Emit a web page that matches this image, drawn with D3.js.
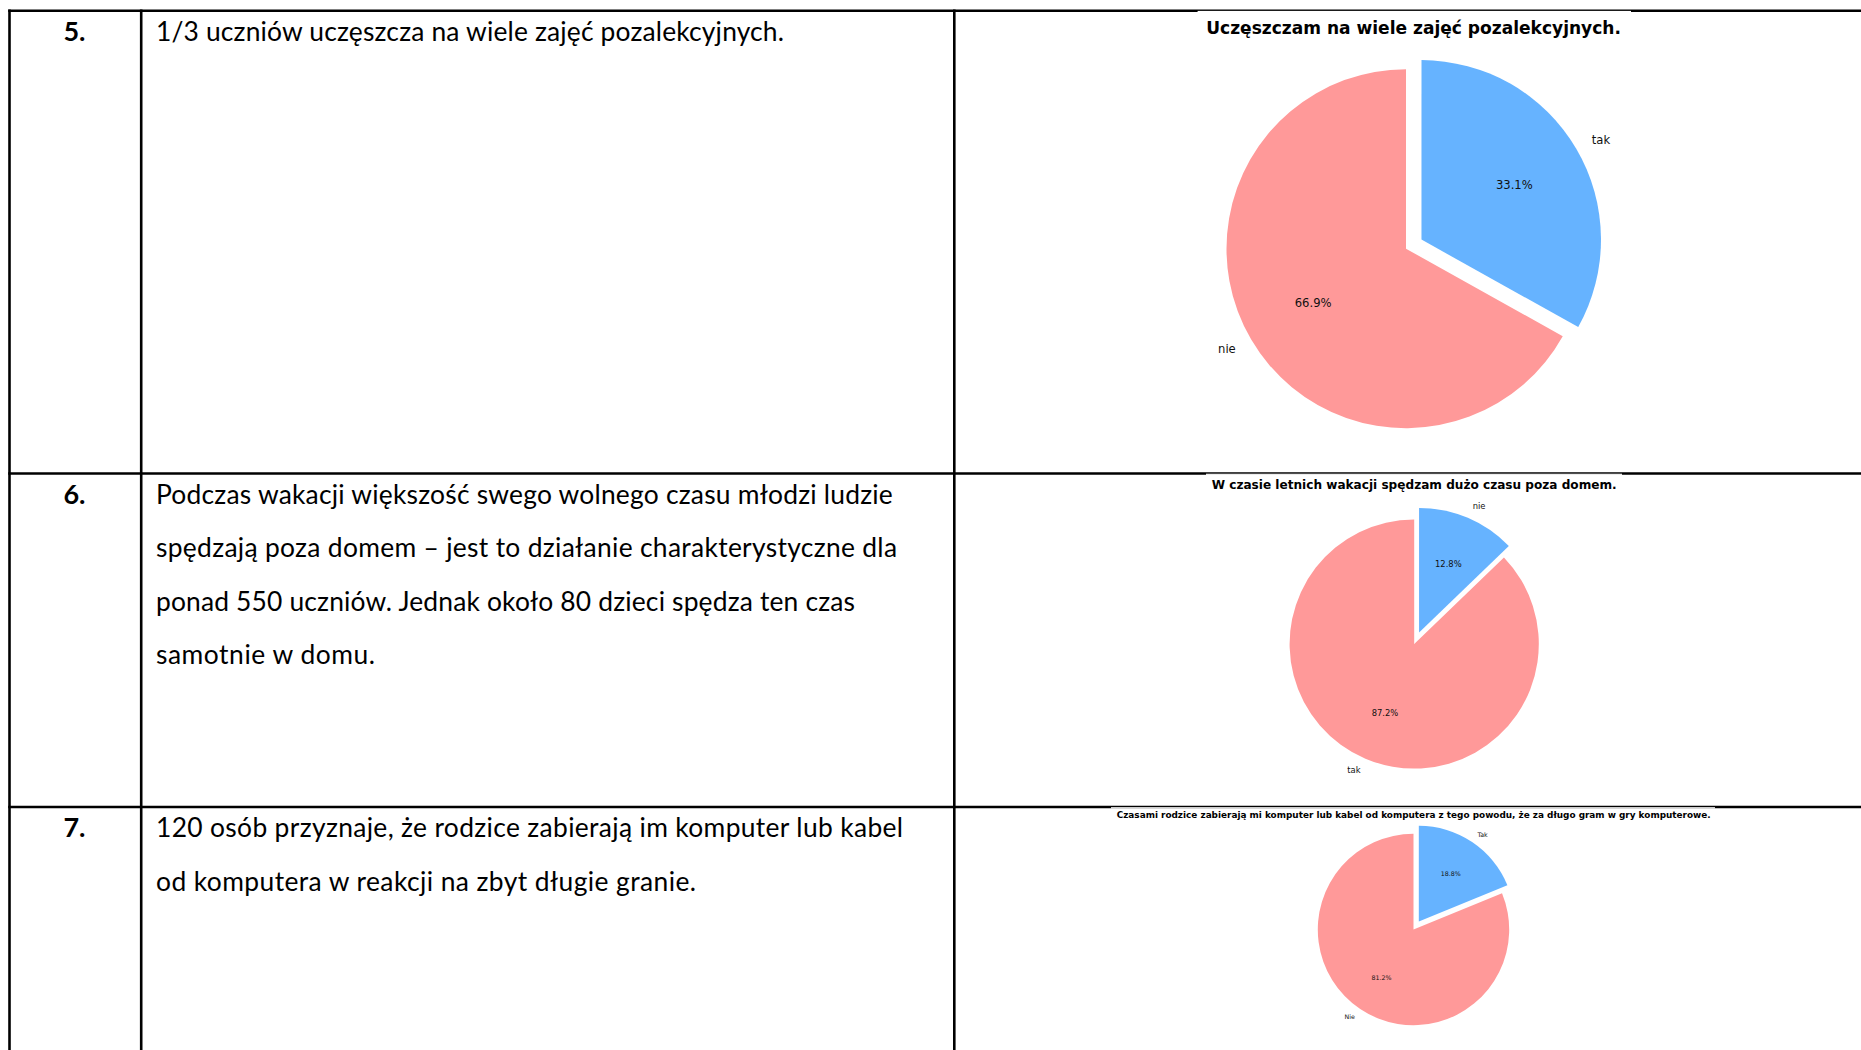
<!DOCTYPE html>
<html>
<head>
<meta charset="utf-8">
<script src="https://cdn.jsdelivr.net/npm/d3@7"></script>
<style>
  html, body { margin: 0; padding: 0; background: #fff; }
  svg { display: block; }
</style>
</head>
<body>
<script>
// ---------- data ----------
const rowNumbers = ["5.", "6.", "7."];
const rowLines0 = ["1/3 uczniów uczęszcza na wiele zajęć pozalekcyjnych."];
const rowLines1 = [
  "Podczas wakacji większość swego wolnego czasu młodzi ludzie",
  "spędzają poza domem – jest to działanie charakterystyczne dla",
  "ponad 550 uczniów. Jednak około 80 dzieci spędza ten czas",
  "samotnie w domu."
];
const rowLines2 = [
  "120 osób przyznaje, że rodzice zabierają im komputer lub kabel",
  "od komputera w reakcji na zbyt długie granie."
];
const chartTitles = [
  "Uczęszczam na wiele zajęć pozalekcyjnych.",
  "W czasie letnich wakacji spędzam dużo czasu poza domem.",
  "Czasami rodzice zabierają mi komputer lub kabel od komputera z tego powodu, że za długo gram w gry komputerowe."
];
const pieLabels1 = ["tak", "nie"];
const pieValues1 = [33.1, 66.9];
const pieLabels2 = ["nie", "tak"];
const pieValues2 = [12.8, 87.2];
const pieLabels3 = ["Tak", "Nie"];
const pieValues3 = [18.8, 81.2];
const sliceColors = ["#66b3ff", "#ff9999"];

// ---------- layout ----------
const W = 1861, H = 1050;
const rowTops = [10.7, 473.5, 807];
const colX = [9.5, 141.2, 954.3];
const lineW = 2.6;
const textX = 156;
const baseOffset = 30.2;
const lineStep = 53.4;
const textFont = "Lato, 'Open Sans', sans-serif";
const textSize = 26.4;
// target right edges of each text line (measured)
const lineEnds = [[784], [892.8, 897, 855, 375], [903, 696]];

const pies = [
  { labels: pieLabels1, values: pieValues1, title: chartTitles[0], cx: 1406, cy: 248.7, r: 179.5, fs: 11.6, tfs: 17.1, tx: 1413.6, ty: 34, tw: 414.7, img: [1197.6, 1631] },
  { labels: pieLabels2, values: pieValues2, title: chartTitles[1], cx: 1414.2, cy: 644, r: 124.6, fs: 8.4, tfs: 12, tx: 1414.2, ty: 489, tw: 405, img: [1206, 1622] },
  { labels: pieLabels3, values: pieValues3, title: chartTitles[2], cx: 1413.5, cy: 929.5, r: 95.7, fs: 6.3, tfs: 9.2, tx: 1413.7, ty: 818, tw: 594, img: [1111, 1715] }
];

const svg = d3.select("body").append("svg").attr("width", W).attr("height", H);
svg.append("rect").attr("width", W).attr("height", H).attr("fill", "#fff");

// ---------- table grid ----------
const grid = svg.append("g").attr("stroke", "#000").attr("stroke-width", lineW);
grid.selectAll("line.h").data(rowTops).join("line")
  .attr("class", "h")
  .attr("x1", colX[0] - lineW / 2).attr("x2", W)
  .attr("y1", d => d).attr("y2", d => d);
grid.selectAll("line.v").data(colX).join("line")
  .attr("class", "v")
  .attr("x1", d => d).attr("x2", d => d)
  .attr("y1", rowTops[0] - lineW / 2).attr("y2", H);

// embedded chart images slightly overlap the rules
pies.forEach((p, i) => {
  svg.append("rect")
    .attr("x", p.img[0]).attr("width", p.img[1] - p.img[0])
    .attr("y", rowTops[i] + 0.2).attr("height", 1.2)
    .attr("fill", "#fff");
});

// ---------- left texts ----------
const allLines = [rowLines0, rowLines1, rowLines2];
rowNumbers.forEach((num, i) => {
  svg.append("text")
    .attr("x", 74.5).attr("y", rowTops[i] + baseOffset)
    .attr("text-anchor", "middle")
    .attr("font-family", textFont).attr("font-weight", "bold")
    .attr("font-size", textSize + 0.6).attr("fill", "#000")
    .text(num);
  allLines[i].forEach((ln, j) => {
    svg.append("text")
      .attr("x", textX).attr("y", rowTops[i] + baseOffset + j * lineStep)
      .attr("font-family", textFont).attr("font-size", textSize).attr("fill", "#000")
      .attr("textLength", lineEnds[i][j] - textX)
      .attr("lengthAdjust", "spacing")
      .text(ln);
  });
});

// ---------- pies ----------
const pieFont = "'DejaVu Sans', sans-serif";
pies.forEach(p => {
  const g = svg.append("g").attr("transform", `translate(${p.cx},${p.cy})`);
  const arcs = d3.pie().sort(null).value(d => d).startAngle(0).endAngle(2 * Math.PI)(p.values);
  const arc = d3.arc().innerRadius(0).outerRadius(p.r);
  arcs.forEach((a, i) => {
    const mid = (a.startAngle + a.endAngle) / 2;
    const off = i === 0 ? 0.1 * p.r : 0;
    const dx = Math.sin(mid) * off, dy = -Math.cos(mid) * off;
    const sg = g.append("g").attr("transform", `translate(${dx},${dy})`);
    sg.append("path").attr("d", arc(a)).attr("fill", sliceColors[i]);
    const px = Math.sin(mid) * 0.6 * p.r, py = -Math.cos(mid) * 0.6 * p.r;
    sg.append("text")
      .attr("x", px).attr("y", py)
      .attr("text-anchor", "middle").attr("dominant-baseline", "central")
      .attr("font-family", pieFont).attr("font-size", p.fs).attr("fill", "#111")
      .text(d3.format(".1f")(p.values[i]) + "%");
    const lx = Math.sin(mid) * 1.1 * p.r, ly = -Math.cos(mid) * 1.1 * p.r;
    sg.append("text")
      .attr("x", lx).attr("y", ly)
      .attr("text-anchor", lx > 0 ? "start" : "end").attr("dominant-baseline", "central")
      .attr("font-family", pieFont).attr("font-size", p.fs).attr("fill", "#111")
      .text(p.labels[i]);
  });
  svg.append("text")
    .attr("x", p.tx).attr("y", p.ty)
    .attr("text-anchor", "middle")
    .attr("font-family", pieFont).attr("font-weight", "bold")
    .attr("font-size", p.tfs).attr("fill", "#000")
    .attr("textLength", p.tw).attr("lengthAdjust", "spacingAndGlyphs")
    .text(p.title);
});
</script>
</body>
</html>
